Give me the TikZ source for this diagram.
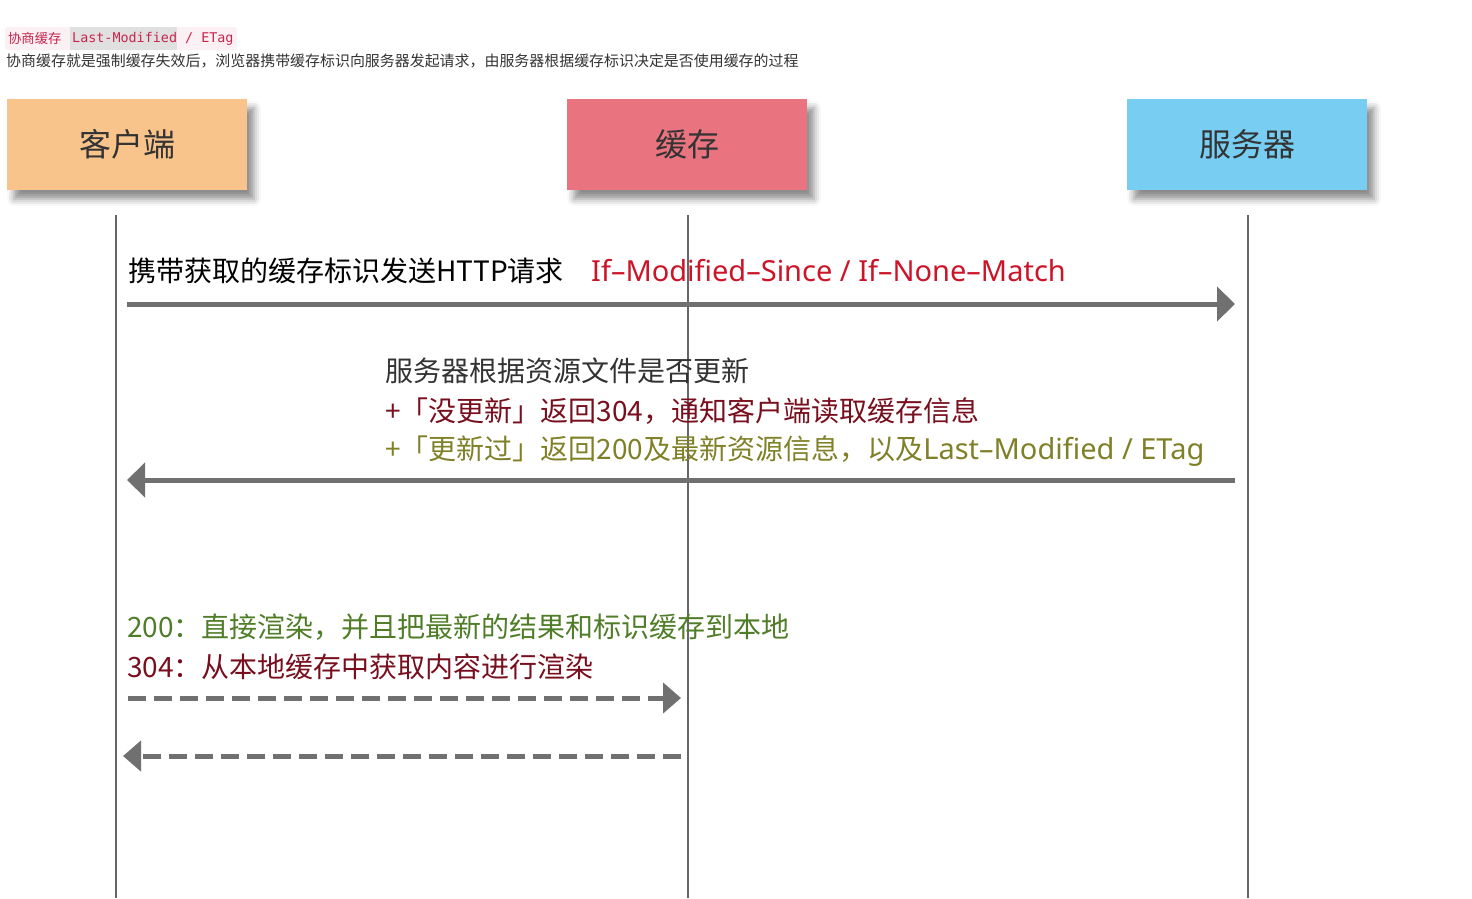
\documentclass[tikz,border=0pt]{standalone}
\usepackage{fontspec}
\setmainfont{Noto Sans CJK SC}
\newfontfamily\monof{DejaVu Sans Mono}
\newfontfamily\latinf{Noto Sans}
\newcommand\latinbig{\latinf\fontsize{29}{34}\selectfont}
\usetikzlibrary{arrows.meta,shadows.blur}
\definecolor{textdark}{RGB}{51,51,51}
\definecolor{codered}{RGB}{199,37,78}
\definecolor{codepink}{RGB}{251,240,243}
\definecolor{codegray}{RGB}{224,224,224}
\definecolor{clientfill}{RGB}{248,196,140}
\definecolor{cachefill}{RGB}{233,116,128}
\definecolor{serverfill}{RGB}{120,205,242}
\definecolor{lifegray}{RGB}{102,102,102}
\definecolor{arrowgray}{RGB}{112,112,112}
\definecolor{hdrred}{RGB}{204,20,40}
\definecolor{maroon}{RGB}{120,15,30}
\definecolor{olivec}{RGB}{128,128,40}
\definecolor{greenc}{RGB}{80,125,40}
\begin{document}
\begin{tikzpicture}[x=1pt,y=-1pt,
  actor/.style={minimum width=240pt, minimum height=91pt, inner sep=0pt,
    font=\fontsize{32}{38}\selectfont, text=textdark,
    blur shadow={shadow xshift=7pt, shadow yshift=-9pt, shadow blur radius=7pt, shadow opacity=45}},
  msg/.style={anchor=west, inner sep=0pt, font=\fontsize{28}{34}\selectfont},
  life/.style={draw=lifegray, line width=1.5pt},
  solidarrow/.style={draw=arrowgray, line width=5pt, -{Triangle[length=18pt,width=34pt]}},
  dasharrow/.style={draw=arrowgray, line width=5pt, dash pattern=on 18pt off 8pt, -{Triangle[length=18pt,width=30pt]}}
]
\useasboundingbox (0,0) rectangle (1472,898);

% header
\fill[codepink, rounded corners=3pt] (5,27) rectangle (237,50);
\fill[codegray] (70,27) rectangle (177,50);
\node[anchor=west, inner sep=0pt, text=codered, font=\fontsize{13.3}{16}\selectfont] (h1) at (8,38.5) {协商缓存};
\node[anchor=west, inner sep=0pt, text=codered, font=\monof\fontsize{13.4}{16}\selectfont] (h2) at (72,38.5) {Last-Modified / ETag};
\node[anchor=west, inner sep=0pt, text=textdark, font=\fontsize{14.95}{18}\selectfont] (desc) at (6,61) {协商缓存就是强制缓存失效后，浏览器携带缓存标识向服务器发起请求，由服务器根据缓存标识决定是否使用缓存的过程};

% actors
\node[actor, fill=clientfill] (client) at (127,144.5) {客户端};
\node[actor, fill=cachefill] (cache) at (687,144.5) {缓存};
\node[actor, fill=serverfill] (server) at (1247,144.5) {服务器};

% lifelines
\coordinate (ct) at (116,215); \coordinate (cb) at (116,898);
\coordinate (kt) at (688,215); \coordinate (kb) at (688,898);
\coordinate (st) at (1248,215); \coordinate (sb) at (1248,898);
\draw[life] (ct) -- (cb);
\draw[life] (kt) -- (kb);
\draw[life] (st) -- (sb);

% message 1
\node[msg, text=black] (m1a) at (128,271) {携带获取的缓存标识发送HTTP请求};
\node[msg, text=hdrred] (m1b) at (591,271) {\latinbig If–Modified–Since / If–None–Match};
\coordinate (a1s) at (127,304); \coordinate (a1e) at (1235,304);
\draw[solidarrow] (a1s) -- (a1e);

% message 2
\node[msg, text=textdark] (m2a) at (385,371) {服务器根据资源文件是否更新};
\node[msg, text=maroon] (m2b) at (385,411) {+「没更新」返回304，通知客户端读取缓存信息};
\node[msg, text=olivec] (m2c) at (385,451) {+「更新过」返回200及最新资源信息，以及{\latinbig Last–Modified / ETag}};
\coordinate (a2s) at (1235,480); \coordinate (a2e) at (127,480);
\draw[solidarrow] (a2s) -- (a2e);

% message 3/4
\node[msg, text=greenc] (m3a) at (127,627) {200：直接渲染，并且把最新的结果和标识缓存到本地};
\node[msg, text=maroon] (m3b) at (127,667) {304：从本地缓存中获取内容进行渲染};
\coordinate (a3s) at (128,698); \coordinate (a3e) at (681,698);
\draw[dasharrow] (a3s) -- (a3e);
\coordinate (a4s) at (681,756); \coordinate (a4e) at (123,756);
\draw[dasharrow] (a4s) -- (a4e);
\end{tikzpicture}
\end{document}
